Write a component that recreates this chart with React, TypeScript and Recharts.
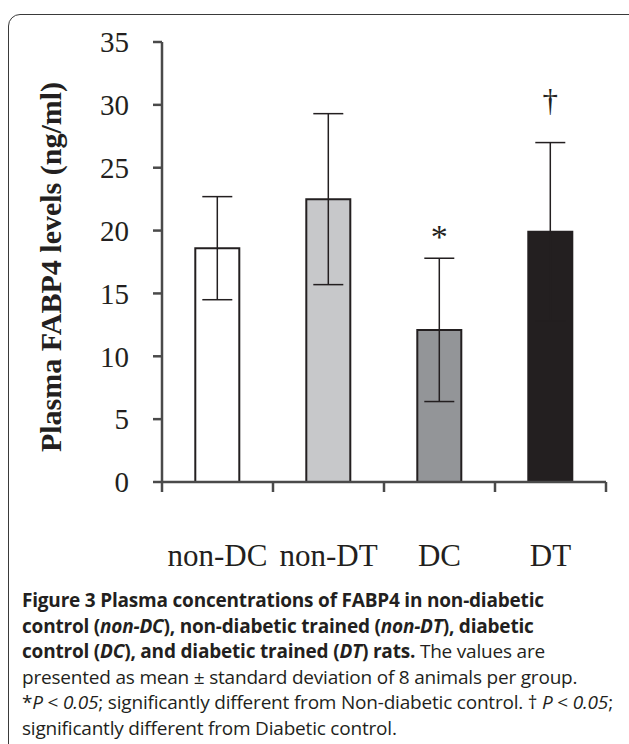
import React from 'react'
import {
  BarChart, Bar, XAxis, YAxis, Cell, ErrorBar, LabelList, Label,
} from 'recharts'

// ── Data ────────────────────────────────────────────────────────────────────
const categories = ['non-DC', 'non-DT', 'DC', 'DT']
const means = [18.6, 22.5, 12.1, 19.9]
const sds = [4.1, 6.8, 5.7, 7.1]
const marks = ['', '', '*', '†']
const yTicks = [0, 5, 10, 15, 20, 25, 30, 35]

const fills = ['#ffffff', '#c7c8ca', '#939598', '#231f20']

const data = categories.map((name, i) => ({
  name, mean: means[i], sd: sds[i], mark: marks[i],
}))

// ── Layout ──────────────────────────────────────────────────────────────────
const W = 629
const H = 600
const M = { top: 42, right: 23, left: 0, bottom: 88 }
const Y_AXIS_W = 162
const BAND = (W - M.left - M.right - Y_AXIS_W) / categories.length
const INK = '#231f20'
const AXIS = '#4a4a4a'
const SERIF = '"Liberation Serif", "Times New Roman", serif'

// category label + boundary tick marks (ticks sit between the groups)
function XTick(props: any) {
  const { x, y, payload, index } = props
  const last = index === categories.length - 1
  return (
    <g>
      <line x1={x - BAND / 2} x2={x - BAND / 2} y1={y} y2={y + 10} stroke={AXIS} strokeWidth={2.5} />
      {last && <line x1={x + BAND / 2} x2={x + BAND / 2} y1={y} y2={y + 10} stroke={AXIS} strokeWidth={2.5} />}
      <text x={x} y={y + 84} textAnchor="middle" fontFamily={SERIF} fontSize={31} fill={INK}>
        {payload.value}
      </text>
    </g>
  )
}

function Mark(props: any) {
  const { x, y, width, height, value, index } = props
  const txt = marks[index]
  if (!txt) return null
  const perUnit = height / value
  const top = y - sds[index] * perUnit
  const gap = txt === '†' ? 32 : 10
  return (
    <text x={x + width / 2} y={top - gap} textAnchor="middle" fontFamily={SERIF} fontSize={txt === '*' ? 34 : 31} fill={INK}>
      {txt}
    </text>
  )
}

function YLabel() {
  return (
    <text
      x={50} y={267}
      transform="rotate(-90 50 267)"
      textAnchor="middle" dominantBaseline="central"
      fontFamily={SERIF} fontSize={30} fontWeight={700} fill={INK}
    >
      Plasma FABP4 levels (ng/ml)
    </text>
  )
}

export default function App() {
  return (
    <div style={{ position: 'fixed', left: 0, top: 0, width: W, height: 744, overflow: 'hidden', background: '#fff' }}>
      <div style={{
        position: 'absolute', left: 8, top: 14, width: 640, height: 780,
        border: '1.5px solid #3a3a3a', borderRadius: 12, boxSizing: 'border-box',
      }} />
      <div style={{ position: 'absolute', left: 0, top: 0 }}>
        <BarChart width={W} height={H} data={data} margin={M} barCategoryGap="30%">
          <XAxis
            dataKey="name"
            stroke={AXIS} strokeWidth={2.5}
            tickLine={false} tickSize={0} tickMargin={0}
            tick={<XTick />}
            interval={0}
          />
          <YAxis
            width={Y_AXIS_W}
            domain={[0, 35]} ticks={yTicks} interval={0}
            stroke={AXIS} strokeWidth={2.5}
            tickSize={9} tickMargin={24}
            tick={{ fontFamily: SERIF, fontSize: 29, fill: INK }}
          >
            <Label content={<YLabel />} />
          </YAxis>
          <Bar dataKey="mean" isAnimationActive={false} stroke={INK} strokeWidth={2}>
            {data.map((d, i) => (
              <Cell key={d.name} fill={fills[i]} />
            ))}
            <ErrorBar dataKey="sd" width={15} stroke={INK} strokeWidth={1.5} isAnimationActive={false} />
            <LabelList dataKey="mean" content={<Mark />} />
          </Bar>
        </BarChart>
      </div>
      <div style={{
        position: 'absolute', left: 22, top: 588, width: 620,
        fontFamily: '"Open Sans", sans-serif', fontSize: 19, lineHeight: '25.5px',
        color: INK, whiteSpace: 'nowrap', letterSpacing: -0.2,
      }}>
        <b>Figure 3 Plasma concentrations of FABP4 in non-diabetic</b><br />
        <b>control (<i>non-DC</i>), non-diabetic trained (<i>non-DT</i>), diabetic</b><br />
        <b>control (<i>DC</i>), and diabetic trained (<i>DT</i>) rats.</b> The values are<br />
        presented as mean ± standard deviation of 8 animals per group.<br />
        *<i>P</i> &lt; <i>0.05</i>; significantly different from Non-diabetic control. † <i>P</i> &lt; <i>0.05</i>;<br />
        significantly different from Diabetic control.
      </div>
    </div>
  )
}
